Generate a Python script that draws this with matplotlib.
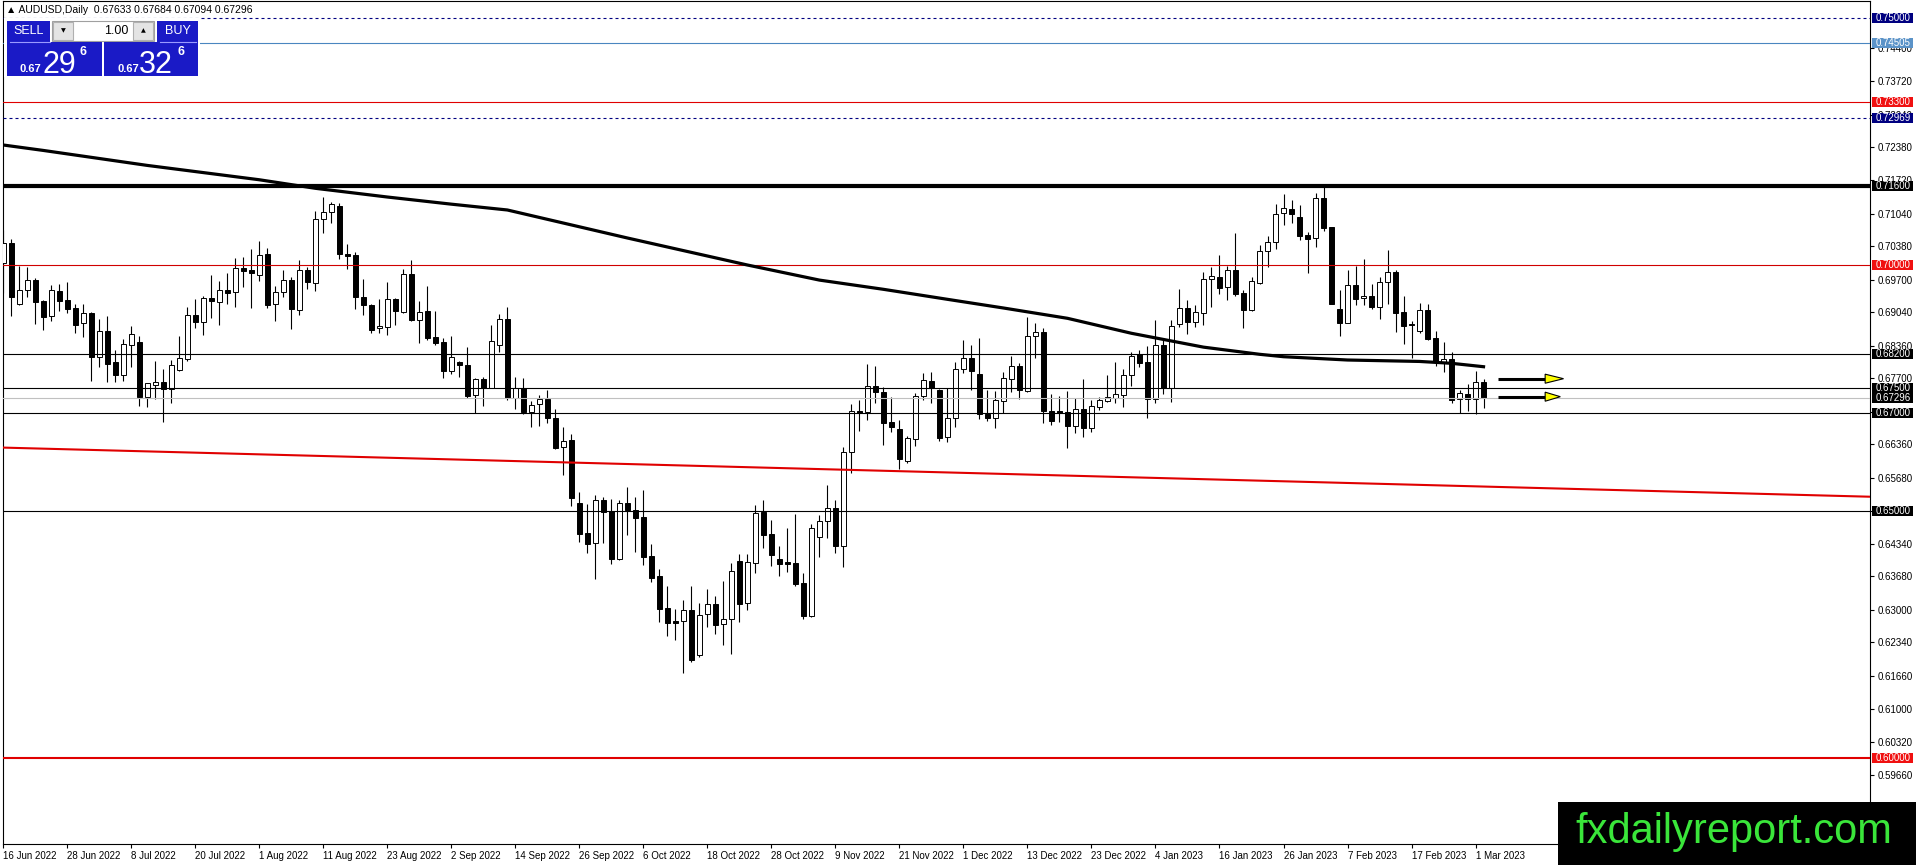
import numpy as np
import matplotlib
matplotlib.use("Agg")
import matplotlib.pyplot as plt
import matplotlib.transforms as mtransforms
from matplotlib.patches import Rectangle, Polygon

plt.rcParams['font.family'] = ['Liberation Sans', 'DejaVu Sans']

W, H = 1916, 865

# AUDUSD daily candles, 16 Jun 2022 .. 2 Mar 2023
opens = [
    0.70031, 0.70436, 0.69199, 0.69483, 0.69686, 0.69267, 0.68956, 0.69463,
    0.69280, 0.69125, 0.68814, 0.69017, 0.68138, 0.68652, 0.68030, 0.67773,
    0.68368, 0.68435, 0.67327, 0.67570, 0.67624, 0.67482, 0.67867, 0.68097,
    0.68983, 0.68848, 0.69328, 0.69253, 0.69490, 0.69442, 0.69943, 0.69895,
    0.69787, 0.70213, 0.69199, 0.69442, 0.69686, 0.69091, 0.69889, 0.69625,
    0.70923, 0.71072, 0.71187, 0.70227, 0.70193, 0.69348, 0.69186, 0.68712,
    0.68746, 0.69307, 0.69044, 0.69807, 0.68875, 0.69057, 0.68530, 0.68428,
    0.67854, 0.68030, 0.67962, 0.67354, 0.67685, 0.67509, 0.68368, 0.68895,
    0.67292, 0.67494, 0.67021, 0.67170, 0.67271, 0.66886, 0.66298, 0.66440,
    0.65162, 0.64554, 0.64351, 0.65230, 0.65007, 0.64040, 0.65162, 0.65027,
    0.64885, 0.64087, 0.63688, 0.63033, 0.62776, 0.62769, 0.62999, 0.62093,
    0.62911, 0.63114, 0.62708, 0.62810, 0.63986, 0.63134, 0.63945, 0.64979,
    0.64540, 0.64033, 0.63972, 0.63952, 0.63553, 0.62877, 0.64473, 0.64797,
    0.65061, 0.64304, 0.66196, 0.67028, 0.67022, 0.67535, 0.67420, 0.66805,
    0.66663, 0.66028, 0.66460, 0.67339, 0.67637, 0.67468, 0.66501, 0.66887,
    0.67887, 0.68103, 0.67779, 0.66981, 0.66886, 0.67245, 0.67678, 0.67941,
    0.67434, 0.68550, 0.68631, 0.67035, 0.67035, 0.67014, 0.66737, 0.67068,
    0.66683, 0.67123, 0.67245, 0.67306, 0.67367, 0.67759, 0.68191, 0.68029,
    0.67272, 0.68374, 0.67509, 0.68793, 0.69131, 0.68847, 0.69030, 0.69719,
    0.69753, 0.69543, 0.69895, 0.69428, 0.69084, 0.69638, 0.70280, 0.70456,
    0.71044, 0.71132, 0.70963, 0.70605, 0.70551, 0.71348, 0.70760, 0.69097,
    0.68827, 0.69584, 0.69320, 0.69361, 0.69151, 0.69658, 0.69854, 0.69043,
    0.68800, 0.68658, 0.69084, 0.68509, 0.68029, 0.68083, 0.67285, 0.67373,
    0.67285, 0.67633,
]
highs = [
    0.70707, 0.70517, 0.69983, 0.69949, 0.69726, 0.69287, 0.69591, 0.69605,
    0.69645, 0.69206, 0.69206, 0.69037, 0.68902, 0.68963, 0.68266, 0.68496,
    0.68760, 0.68557, 0.67610, 0.68050, 0.67888, 0.68070, 0.68557, 0.69138,
    0.69300, 0.69375, 0.69794, 0.69672, 0.69828, 0.70145, 0.70159, 0.70321,
    0.70490, 0.70335, 0.69571, 0.69895, 0.69747, 0.70098, 0.69963, 0.71092,
    0.71369, 0.71281, 0.71247, 0.70416, 0.70267, 0.69706, 0.69206, 0.69307,
    0.69652, 0.69321, 0.69922, 0.70098, 0.69267, 0.69578, 0.69057, 0.68523,
    0.68564, 0.68043, 0.68334, 0.67698, 0.67732, 0.68780, 0.69003, 0.69152,
    0.67720, 0.67700, 0.67244, 0.67359, 0.67460, 0.67068, 0.66717, 0.66568,
    0.65385, 0.65142, 0.65331, 0.65284, 0.65250, 0.65230, 0.65493, 0.65284,
    0.65433, 0.64337, 0.63824, 0.63486, 0.63019, 0.63195, 0.63479, 0.63134,
    0.63418, 0.63276, 0.63580, 0.63959, 0.64141, 0.64135, 0.65128, 0.65230,
    0.64824, 0.64303, 0.64668, 0.64946, 0.63742, 0.64736, 0.64919, 0.65527,
    0.65230, 0.66311, 0.67177, 0.67251, 0.67988, 0.67948, 0.67522, 0.67319,
    0.66853, 0.66528, 0.67393, 0.67806, 0.67819, 0.67475, 0.67495, 0.68022,
    0.68475, 0.68367, 0.68509, 0.67461, 0.67434, 0.67826, 0.68151, 0.68016,
    0.68942, 0.68813, 0.68712, 0.67380, 0.67346, 0.67440, 0.67292, 0.67684,
    0.67258, 0.67326, 0.67772, 0.68029, 0.67887, 0.68225, 0.68266, 0.68347,
    0.68881, 0.68502, 0.68881, 0.69510, 0.69280, 0.69178, 0.69848, 0.69962,
    0.70199, 0.69976, 0.70652, 0.69489, 0.69746, 0.70402, 0.70584, 0.71227,
    0.71436, 0.71315, 0.71206, 0.70666, 0.71450, 0.71619, 0.70774, 0.69489,
    0.69895, 0.69983, 0.70111, 0.69611, 0.69746, 0.70301, 0.69895, 0.69361,
    0.68861, 0.69219, 0.69199, 0.68651, 0.68428, 0.68239, 0.67461, 0.67576,
    0.67840, 0.67684,
]
lows = [
    0.69422, 0.68969, 0.69180, 0.69355, 0.68807, 0.68685, 0.68868, 0.69071,
    0.69030, 0.68625, 0.68543, 0.67651, 0.67935, 0.67631, 0.67631, 0.67651,
    0.67921, 0.67137, 0.67124, 0.67272, 0.66820, 0.67205, 0.67850, 0.68050,
    0.68726, 0.68577, 0.68929, 0.68787, 0.69206, 0.69138, 0.69557, 0.69118,
    0.69679, 0.69132, 0.68868, 0.69355, 0.68699, 0.68990, 0.69510, 0.69476,
    0.70639, 0.70855, 0.70112, 0.69922, 0.69111, 0.68990, 0.68611, 0.68625,
    0.68570, 0.68787, 0.69030, 0.68870, 0.68422, 0.68469, 0.68368, 0.67712,
    0.67793, 0.67732, 0.67293, 0.66988, 0.67144, 0.67496, 0.68239, 0.67259,
    0.67068, 0.66967, 0.66703, 0.66737, 0.66785, 0.66257, 0.65743, 0.65108,
    0.64385, 0.64162, 0.63634, 0.64365, 0.63925, 0.64013, 0.64527, 0.64175,
    0.63905, 0.63560, 0.62762, 0.62472, 0.62384, 0.61714, 0.61951, 0.62052,
    0.62661, 0.62512, 0.62289, 0.62107, 0.62749, 0.62999, 0.63742, 0.64249,
    0.63898, 0.63695, 0.63763, 0.63492, 0.62809, 0.62850, 0.64080, 0.64452,
    0.64162, 0.63878, 0.65784, 0.66636, 0.66859, 0.67197, 0.66352, 0.66616,
    0.65866, 0.65974, 0.66332, 0.67265, 0.67197, 0.66433, 0.66413, 0.66711,
    0.67806, 0.67454, 0.66880, 0.66826, 0.66697, 0.66988, 0.67427, 0.67286,
    0.67414, 0.68117, 0.66785, 0.66751, 0.66819, 0.66291, 0.66582, 0.66514,
    0.66615, 0.67056, 0.67211, 0.67205, 0.67110, 0.67549, 0.67928, 0.66887,
    0.67191, 0.67373, 0.67225, 0.68746, 0.68597, 0.68732, 0.68786, 0.69151,
    0.69408, 0.69287, 0.69368, 0.68719, 0.69070, 0.69604, 0.69963, 0.70321,
    0.70801, 0.70841, 0.70503, 0.69841, 0.70368, 0.70686, 0.69198, 0.68563,
    0.68813, 0.69185, 0.69185, 0.69097, 0.68908, 0.69212, 0.68638, 0.68401,
    0.68117, 0.68624, 0.68482, 0.67955, 0.67819, 0.67191, 0.66988, 0.67042,
    0.66968, 0.67094,
]
closes = [
    0.70436, 0.69355, 0.69483, 0.69686, 0.69253, 0.68949, 0.69483, 0.69273,
    0.69098, 0.68787, 0.69017, 0.68138, 0.68652, 0.67996, 0.67773, 0.68395,
    0.68597, 0.67320, 0.67597, 0.67624, 0.67475, 0.67962, 0.68104, 0.68983,
    0.68841, 0.69328, 0.69273, 0.69483, 0.69436, 0.69936, 0.69882, 0.69841,
    0.70193, 0.69186, 0.69442, 0.69686, 0.69111, 0.69889, 0.69645, 0.70923,
    0.71072, 0.71227, 0.70227, 0.70186, 0.69355, 0.69179, 0.68679, 0.68753,
    0.69300, 0.69071, 0.69807, 0.68888, 0.69051, 0.68523, 0.68422, 0.67854,
    0.68131, 0.67962, 0.67347, 0.67678, 0.67509, 0.68449, 0.68895, 0.67293,
    0.67494, 0.67008, 0.67156, 0.67271, 0.66886, 0.66291, 0.66433, 0.65264,
    0.64547, 0.64344, 0.65223, 0.64986, 0.64040, 0.65162, 0.65020, 0.64871,
    0.64081, 0.63655, 0.63026, 0.62742, 0.62742, 0.62999, 0.61992, 0.62891,
    0.63114, 0.62702, 0.62810, 0.63783, 0.63127, 0.63966, 0.64973, 0.64520,
    0.64114, 0.63931, 0.63938, 0.63526, 0.62877, 0.64655, 0.64797, 0.65061,
    0.64304, 0.66196, 0.67028, 0.66988, 0.67535, 0.67414, 0.66799, 0.66717,
    0.66055, 0.66481, 0.67339, 0.67657, 0.67508, 0.66494, 0.66887, 0.67887,
    0.68103, 0.67853, 0.66968, 0.66886, 0.67251, 0.67704, 0.67941, 0.67454,
    0.68550, 0.68631, 0.67029, 0.66839, 0.66995, 0.66737, 0.67068, 0.66683,
    0.67136, 0.67258, 0.67313, 0.67373, 0.67759, 0.68151, 0.68016, 0.67272,
    0.68367, 0.67509, 0.68759, 0.69124, 0.68847, 0.69036, 0.69706, 0.69773,
    0.69537, 0.69895, 0.69415, 0.69084, 0.69672, 0.70280, 0.70463, 0.71031,
    0.71146, 0.71037, 0.70591, 0.70530, 0.71348, 0.70753, 0.69205, 0.68827,
    0.69584, 0.69314, 0.69368, 0.69145, 0.69645, 0.69848, 0.69030, 0.68766,
    0.68786, 0.69077, 0.68496, 0.68022, 0.68083, 0.67258, 0.67394, 0.67285,
    0.67617, 0.67296,
]

# one date label every 8 bars
date_labels = [
    '16 Jun 2022', '28 Jun 2022', '8 Jul 2022', '20 Jul 2022', '1 Aug 2022',
    '11 Aug 2022', '23 Aug 2022', '2 Sep 2022', '14 Sep 2022', '26 Sep 2022',
    '6 Oct 2022', '18 Oct 2022', '28 Oct 2022', '9 Nov 2022', '21 Nov 2022',
    '1 Dec 2022', '13 Dec 2022', '23 Dec 2022', '4 Jan 2023', '16 Jan 2023',
    '26 Jan 2023', '7 Feb 2023', '17 Feb 2023', '1 Mar 2023',
]

# black moving average, sampled at bar indices
ma_bars = [0, 5, 18, 32, 39, 48, 56, 63, 78, 93, 102, 110, 118, 125, 133,
           141, 150, 157, 160, 168, 177, 181, 185]
ma_vals = [0.72430, 0.72320, 0.72016, 0.71725, 0.71552, 0.71375, 0.71230,
           0.71112, 0.70544, 0.69996, 0.69690, 0.69503, 0.69300, 0.69124,
           0.68915, 0.68611, 0.68330, 0.68185, 0.68136, 0.68069, 0.68040,
           0.68002, 0.67933]

# red trend line (two anchors)
trend_bars = [-0.4, 233.3]
trend_vals = [0.66294, 0.65296]

# horizontal levels
level_prices = [0.75000, 0.74505, 0.73300, 0.72969, 0.71600, 0.70000,
                0.68200, 0.67500, 0.67296, 0.67000, 0.65000, 0.60000]
level_colors = ['#000080', '#4a86c0', '#e00000', '#000080', 'black', '#d00000',
                'black', 'black', '#c0c0c0', 'black', 'black', '#e00000']
level_styles = [(0, (2.7, 2.7)), '-', '-', (0, (2.7, 2.7)), '-', '-',
                '-', '-', '-', '-', '-', '-']
level_widths = [0.8, 0.8, 0.8, 0.8, 3.0, 0.8, 0.8, 0.8, 0.8, 0.8, 0.8, 1.5]
label_colors = ['#000080', '#5b93c8', '#f01010', '#000080', 'black', '#f01010',
                'black', 'black', 'black', 'black', 'black', '#f01010']

price_ticks = [0.74400, 0.73720, 0.73040, 0.72380, 0.71720, 0.71040, 0.70380,
               0.69700, 0.69040, 0.68360, 0.67700, 0.67020, 0.66360, 0.65680,
               0.65000, 0.64340, 0.63680, 0.63000, 0.62340, 0.61660, 0.61000,
               0.60320, 0.59660]

arrow_prices = [0.67690, 0.67325]
arrow_tips = [195.0, 194.6]

header = '\u25b2 AUDUSD,Daily  0.67633 0.67684 0.67094 0.67296'


def fx(x):
    return x / W


def fy(y):
    return 1 - y / H


fig = plt.figure(figsize=(W / 100, H / 100), dpi=100, facecolor='white')
ax = fig.add_axes([fx(2.5), 21 / H, 1867.5 / W, 843 / H])
ax.set_xlim(-0.1, 233.3)
ax.set_ylim(0.58252, 0.75351)

# candles
o = np.array(opens)
hi = np.array(highs)
lo = np.array(lows)
c = np.array(closes)
x = np.arange(len(o))
ax.vlines(x, lo, hi, color='black', lw=0.8, zorder=2)
body_lo = np.minimum(o, c)
body_h = np.maximum(np.abs(c - o), 0.00002)
face = np.where(c >= o, 'white', 'black')
ax.bar(x, body_h, bottom=body_lo, width=0.55, color=face, edgecolor='black',
       linewidth=0.7, zorder=3)

# levels
for p, col, ls, lw in zip(level_prices, level_colors, level_styles, level_widths):
    ax.axhline(p, color=col, ls=ls, lw=lw, zorder=4)

ax.plot(ma_bars, ma_vals, color='black', lw=2.3, zorder=5)
ax.plot(trend_bars, trend_vals, color='#e00000', lw=1.5, zorder=5)

# yellow arrows
dh = 0.00092
for p, tip in zip(arrow_prices, arrow_tips):
    ax.plot([186.8, 192.9], [p, p], color='black', lw=2.2, zorder=7,
            solid_capstyle='butt')
    ax.add_patch(Polygon([[192.7, p + dh], [192.7, p - dh], [tip, p]], closed=True,
                         fc='#ffff00', ec='black', lw=0.8, zorder=8))

# axes styling
for s in ax.spines.values():
    s.set_color('black')
    s.set_linewidth(0.8)
ax.yaxis.tick_right()
ax.set_yticks(price_ticks)
ax.set_yticklabels([f'{v:.5f}' for v in price_ticks])
ax.tick_params(axis='y', right=True, left=False, length=3, width=0.8, pad=2.5,
               labelsize=7, direction='out', colors='black')
ax.set_xticks(np.arange(0, len(o), 8))
ax.set_xticklabels(date_labels, ha='left')
ax.tick_params(axis='x', length=3, width=0.8, pad=2, labelsize=7, direction='out')

# price labels on the right
trans = mtransforms.blended_transform_factory(ax.transAxes, ax.transData)
bx0 = (1872 - 2.5) / 1867.5
bw = 41 / 1867.5
bh = 0.00203
tx = (1875.5 - 2.5) / 1867.5
for p, col in zip(level_prices, label_colors):
    ax.add_patch(Rectangle((bx0, p - bh / 2), bw, bh, transform=trans, fc=col,
                           ec='none', clip_on=False, zorder=9))
    ax.text(tx, p, f'{p:.5f}', transform=trans, color='white', fontsize=7,
            va='center', ha='left', clip_on=False, zorder=10)

# header line
fig.text(fx(6), fy(10), header, fontsize=7.5, va='center', ha='left')

# one-click trading panel
blue = '#1a1ac6'
panel = [
    (4, 18, 200, 77, 'white', 'none'),
    (7, 21, 50, 42, blue, 'none'),
    (157, 21, 198, 42, blue, 'none'),
    (52, 21, 154, 41, 'white', '#a0a0a0'),
    (53, 22, 73, 40, '#e4e4e4', '#b0b0b0'),
    (133, 22, 153, 40, '#e4e4e4', '#b0b0b0'),
    (7, 42, 102, 76, blue, 'none'),
    (104, 42, 198, 76, blue, 'none'),
]
for x0, y0, x1, y1, fc, ec in panel:
    fig.patches.append(Rectangle((fx(x0), fy(y1)), (x1 - x0) / W, (y1 - y0) / H,
                                 transform=fig.transFigure, fc=fc, ec=ec, lw=0.8))
fig.add_artist(plt.Line2D([fx(10), fx(50)], [fy(42), fy(42)], color='#9a9aff', lw=0.8))
fig.add_artist(plt.Line2D([fx(160), fx(196)], [fy(42), fy(42)], color='#9a9aff', lw=0.8))

fig.text(fx(28.5), fy(31), 'SELL', color='white', fontsize=9, ha='center', va='center')
fig.text(fx(177.5), fy(31), 'BUY', color='white', fontsize=9, ha='center', va='center')
fig.text(fx(128), fy(31), '1.00', color='black', fontsize=9, ha='right', va='center')
fig.text(fx(63), fy(31), '\u25bc', color='black', fontsize=4.5, ha='center', va='center',
         family='DejaVu Sans')
fig.text(fx(143), fy(31), '\u25b2', color='black', fontsize=4.5, ha='center', va='center',
         family='DejaVu Sans')

for x0, big in [(20, '29'), (117, '32')]:
    fig.text(fx(x0), fy(72), '0.67', color='white', fontsize=8, fontweight='bold',
             ha='left', va='baseline')
    fig.text(fx(x0 + 22), fy(73), big, color='white', fontsize=22,
             ha='left', va='baseline')
    fig.text(fx(x0 + 60), fy(55), '6', color='white', fontsize=9, fontweight='bold',
             ha='left', va='baseline')

# watermark
fig.patches.append(Rectangle((fx(1558), 0), (W - 1558) / W, (H - 802) / H,
                             transform=fig.transFigure, fc='black', ec='none', zorder=20))
fig.text(fx(1575), fy(843), 'fxdailyreport.com', color='#3ae63a', fontsize=30,
         ha='left', va='baseline', zorder=21)

fig.savefig('out.png', dpi=100, facecolor='white')
